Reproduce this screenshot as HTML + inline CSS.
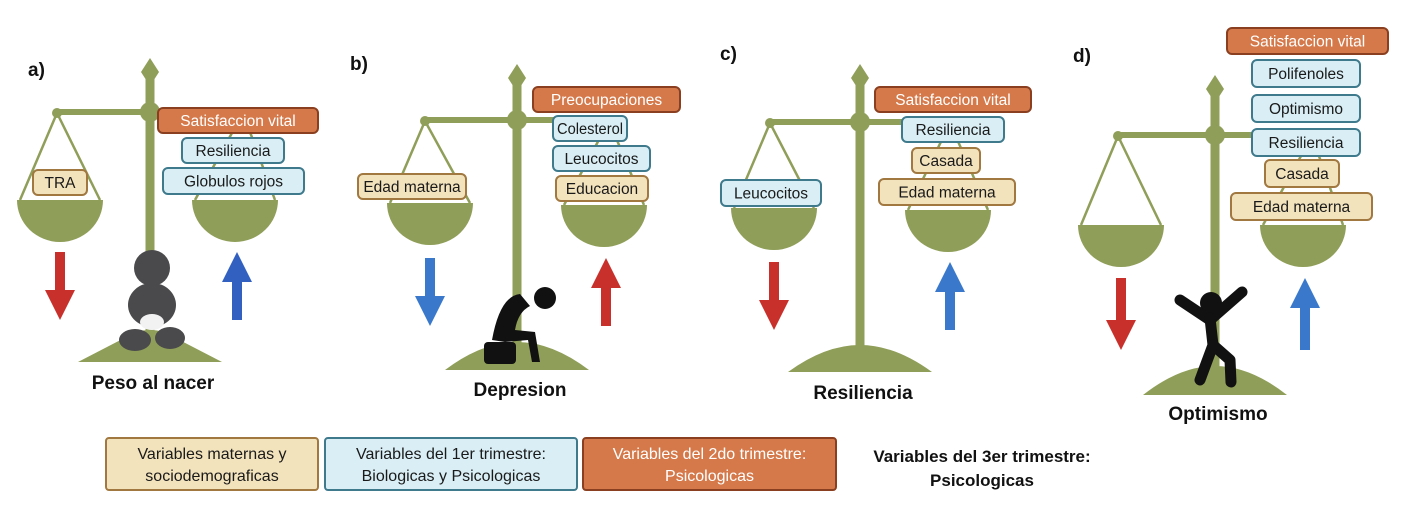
<!DOCTYPE html>
<html><head><meta charset="utf-8"><style>
html,body{margin:0;padding:0;background:#fff;width:1406px;height:508px;overflow:hidden}
svg{display:block}
text{font-family:"Liberation Sans",sans-serif}
</style></head><body>
<svg id="fig" width="1406" height="508" viewBox="0 0 1406 508" xmlns="http://www.w3.org/2000/svg"></svg>
<script>
const NS="http://www.w3.org/2000/svg";
const svg=document.getElementById('fig');
const G="#8f9e58";
function el(tag,attrs,parent){const e=document.createElementNS(NS,tag);for(const k in attrs)e.setAttribute(k,attrs[k]);(parent||svg).appendChild(e);return e;}

const panelIds=["a","b","c","d"];
const poleX=[150,517,860,1215];
const pivotY=[112,120,122,135];
const diamondTop=[58,64,64,75];
const beamLeft=[57,425,770,1118];
const leftPanX=[60,430,774,1121];
const rightPanX=[235,604,948,1303];
const leftPanTop=[200,203,208,225];
const rightPanTop=[200,205,210,225];
const baseBottom=[362,370,372,395];
const baseTop=[330,342,345,366];
const titles=["Peso al nacer","Depresion","Resiliencia","Optimismo"];
const titleY=[389,396,399,420];
const letterPos=[[28,76],[350,70],[720,60],[1073,62]];
const leftArrowColor=["#c8302b","#3a78cc","#c8302b","#c8302b"];
const rightArrowColor=["#3260c0","#c8302b","#3a78cc","#3a78cc"];
const arrowTop=[252,258,262,278];
const arrowBot=[320,326,330,350];

const labels=[
 ["Satisfaccion vital",158,108,160,25,"o"],["Resiliencia",182,138,102,25,"b"],["Globulos rojos",163,168,141,26,"b"],["TRA",33,170,54,25,"t"],
 ["Preocupaciones",533,87,147,25,"o"],["Colesterol",553,116,74,25,"b"],["Leucocitos",553,146,97,25,"b"],["Educacion",556,176,92,25,"t"],["Edad materna",358,174,108,25,"t"],
 ["Satisfaccion vital",875,87,156,25,"o"],["Resiliencia",902,117,102,25,"b"],["Casada",912,148,68,25,"t"],["Edad materna",879,179,136,26,"t"],["Leucocitos",721,180,100,26,"b"],
 ["Satisfaccion vital",1227,28,161,26,"o"],["Polifenoles",1252,60,108,27,"b"],["Optimismo",1252,95,108,27,"b"],["Resiliencia",1252,129,108,27,"b"],["Casada",1265,160,74,27,"t"],["Edad materna",1231,193,141,27,"t"]
];
const styles={o:["#d5794a","#8a4020","#fff"],b:["#d9eef5","#3f7a8c","#1a1a1a"],t:["#f3e3bd","#a07840","#1a1a1a"]};

for(let i=0;i<4;i++){
  const g=el('g',{});
  
  
  const px=poleX[i],py=pivotY[i],half=px-beamLeft[i];
  [[leftPanX[i],leftPanTop[i],beamLeft[i]],[rightPanX[i],rightPanTop[i],px+half]].forEach(([cx,top,bx])=>{
    el('line',{x1:bx,y1:py+1,x2:cx-40,y2:top,stroke:G,'stroke-width':2.5},g);
    el('line',{x1:bx,y1:py+1,x2:cx+40,y2:top,stroke:G,'stroke-width':2.5},g);
  });
  el('rect',{x:px-4.5,y:diamondTop[i]+10,width:9,height:baseBottom[i]-diamondTop[i]-20,fill:G},g);
  el('path',{d:`M${px} ${diamondTop[i]} L${px+9} ${diamondTop[i]+14} L${px} ${diamondTop[i]+28} L${px-9} ${diamondTop[i]+14}Z`,fill:G},g);
  el('rect',{x:beamLeft[i],y:py-3,width:2*half,height:6,fill:G},g);
  el('circle',{cx:beamLeft[i],cy:py+1,r:5,fill:G},g);
  el('circle',{cx:px,cy:py,r:10,fill:G},g);
  const lp=el('path',{d:`M${leftPanX[i]-43} ${leftPanTop[i]} L${leftPanX[i]+43} ${leftPanTop[i]} A43 42 0 0 1 ${leftPanX[i]-43} ${leftPanTop[i]}Z`,fill:G},g);
  
  
  const rp=el('path',{d:`M${rightPanX[i]-43} ${rightPanTop[i]} L${rightPanX[i]+43} ${rightPanTop[i]} A43 42 0 0 1 ${rightPanX[i]-43} ${rightPanTop[i]}Z`,fill:G},g);
  
  
  const bd = i===0
    ? `M${px-72} ${baseBottom[i]} L${px-14} ${baseTop[i]+2} Q${px} ${baseTop[i]-2} ${px+14} ${baseTop[i]+2} L${px+72} ${baseBottom[i]}Z`
    : `M${px-72} ${baseBottom[i]} Q${px-35} ${baseTop[i]} ${px} ${baseTop[i]} Q${px+35} ${baseTop[i]} ${px+72} ${baseBottom[i]}Z`;
  const b=el('path',{d:bd,fill:G},g);
  
  
  const la=el('path',{d:`M${leftPanX[i]-5} ${arrowTop[i]} h10 v${arrowBot[i]-arrowTop[i]-30} h10 l-15 30 l-15 -30 h10Z`,fill:leftArrowColor[i]},g);
  
  
  const rx=rightPanX[i]+2;
  const ra=el('path',{d:`M${rx-5} ${arrowBot[i]} h10 v${-(arrowBot[i]-arrowTop[i]-30)} h10 l-15 -30 l-15 30 h10Z`,fill:rightArrowColor[i]},g);
  
  
  const t=el('text',{x:px+3,y:titleY[i],'text-anchor':'middle','font-size':19,'font-weight':'bold',fill:'#111'},g);
  t.textContent=titles[i];
  
  
  const l=el('text',{x:letterPos[i][0],y:letterPos[i][1],'font-size':19,'font-weight':'bold',fill:'#111'},g);
  l.textContent=panelIds[i]+")";
  
  
}

(function(){
  const g=el('g',{fill:'#4a4a4c'});
  
  
  el('circle',{cx:152,cy:268,r:18},g);
  el('ellipse',{cx:152,cy:305,rx:24,ry:22},g);
  el('ellipse',{cx:135,cy:340,rx:16,ry:11},g);
  el('ellipse',{cx:170,cy:338,rx:15,ry:11},g);
  el('ellipse',{cx:152,cy:322,rx:12,ry:8,fill:'#f2f2f2'},g);
  const d=el('g',{fill:'#111'});
  
  
  el('circle',{cx:545,cy:298,r:11},d);
  el('rect',{x:484,y:342,width:32,height:22,rx:4},d);
  el('path',{d:'M492 340 Q500 296 520 294 L530 306 Q518 312 515 330 L535 332 L540 362 L532 362 L528 340 L505 342Z'},d);
  const j=el('g',{fill:'none',stroke:'#111','stroke-width':11,'stroke-linecap':'round','stroke-linejoin':'round'});
  
  
  el('circle',{cx:1211,cy:303,r:11,fill:'#111',stroke:'none'},j);
  el('path',{d:'M1180 300 L1210 320 L1242 292'},j);
  el('path',{d:'M1210 318 L1213 345 L1200 380'},j);
  el('path',{d:'M1213 345 L1230 360 L1231 382'},j);
})();

labels.forEach(([txt,x,y,w,h,tp])=>{
  const s=styles[tp];
  const g=el('g',{});
  
  
  el('rect',{x:x,y:y,width:w,height:h,rx:5,fill:s[0],stroke:s[1],'stroke-width':2},g);
  const t=el('text',{x:x+w/2,y:y+h/2+5.5,'text-anchor':'middle','font-size':15.5,fill:s[2]},g);
  t.textContent=txt;
  const len=t.getComputedTextLength();
  if(len>w-8){t.setAttribute('textLength',w-8);t.setAttribute('lengthAdjust','spacingAndGlyphs');}
});

const legText=[["Variables maternas y","sociodemograficas"],["Variables del 1er trimestre:","Biologicas y Psicologicas"],["Variables del 2do trimestre:","Psicologicas"]];
const legX=[106,325,583],legW=[212,252,253],legT=["t","b","o"];
for(let k=0;k<3;k++){
  const s=styles[legT[k]];
  const g=el('g',{});
  
  
  el('rect',{x:legX[k],y:438,width:legW[k],height:52,rx:3,fill:s[0],stroke:s[1],'stroke-width':2},g);
  legText[k].forEach((ln,m)=>{const t=el('text',{x:legX[k]+legW[k]/2,y:459+m*22,'text-anchor':'middle','font-size':16,fill:s[2]},g);t.textContent=ln;});
}
const g4=el('g',{});


[["Variables del 3er trimestre:",462],["Psicologicas",486]].forEach(([ln,y])=>{const t=el('text',{x:982,y:y,'text-anchor':'middle','font-size':17,'font-weight':'bold',fill:'#111'},g4);t.textContent=ln;});
</script>
</body></html>
